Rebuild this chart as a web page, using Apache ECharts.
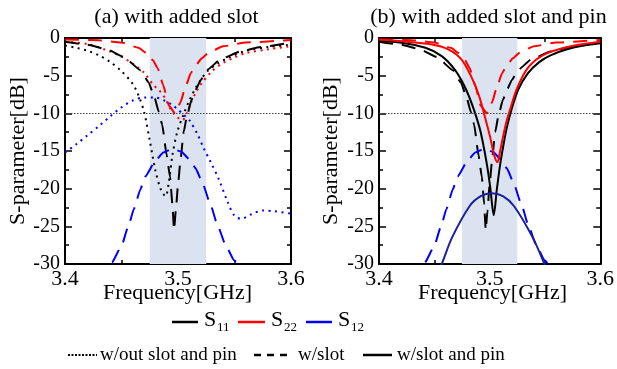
<!DOCTYPE html>
<html>
<head>
<meta charset="utf-8">
<script src="https://cdn.jsdelivr.net/npm/echarts@6/dist/echarts.min.js"></script>
<style>html,body{margin:0;padding:0;background:#fff}#c{width:617px;height:369px}</style>
</head>
<body>
<div id="c"></div>
<script>
// ---------- data ----------
const xTicks = [3.4, 3.5, 3.6];
const yTicks = [0, -5, -10, -15, -20, -25, -30];
const band = [3.475, 3.525];
const refLevel = -10;

// w/out slot and pin (dotted), panel (a)
const fS11none = [3.40,3.41,3.42,3.43,3.44,3.45,3.46,3.465,3.47,3.475,3.48,3.485,3.489,3.492,3.495,3.4993,3.505,3.51,3.515,3.52,3.526,3.535,3.545,3.56,3.58,3.60];
const S11none  = [-1.0,-1.3,-1.7,-2.3,-3.2,-4.4,-6.1,-7.6,-9.8,-13.6,-17.6,-20.2,-21.0,-19.0,-15.6,-12.5,-10.1,-8.3,-6.8,-5.6,-4.4,-3.4,-2.6,-1.7,-1.2,-0.9];
const fS22none = [3.40,3.42,3.44,3.45,3.46,3.47,3.478,3.483,3.487,3.49,3.494,3.50,3.504,3.508,3.512,3.516,3.52,3.53,3.54,3.55,3.56,3.58,3.60];
const S22none  = [-0.5,-0.8,-1.8,-2.5,-3.4,-4.6,-6.2,-6.9,-7.6,-8.4,-9.6,-10.6,-10.9,-9.9,-8.4,-7.2,-6.2,-4.4,-3.3,-2.6,-2.0,-1.5,-1.1];
const fS12none = [3.40,3.41,3.42,3.43,3.44,3.45,3.46,3.47,3.48,3.488,3.495,3.50,3.505,3.51,3.517,3.523,3.529,3.536,3.544,3.55,3.556,3.565,3.575,3.585,3.60];
const S12none  = [-15.2,-14.1,-12.9,-11.7,-10.4,-9.2,-8.3,-7.9,-7.9,-8.3,-8.9,-9.5,-10.2,-10.9,-12.7,-14.7,-16.5,-18.7,-21.8,-23.6,-24.0,-23.4,-22.9,-23.0,-23.3];

// w/slot (dashed), both panels
const fS11slot = [3.40,3.42,3.437,3.452,3.467,3.474,3.479,3.483,3.486,3.49,3.493,3.495,3.4965,3.498,3.50,3.502,3.505,3.508,3.512,3.516,3.52,3.526,3.538,3.555,3.573,3.60];
const S11slot  = [-0.5,-0.9,-1.5,-2.5,-4.3,-5.9,-7.8,-9.8,-11.5,-15.6,-18.5,-22.0,-25.5,-23.0,-19.5,-16.5,-12.5,-10.3,-8.2,-6.8,-5.6,-4.2,-2.8,-1.8,-1.2,-0.6];
const fS22slot = [3.40,3.43,3.45,3.465,3.472,3.478,3.482,3.487,3.492,3.4975,3.502,3.507,3.5115,3.5154,3.521,3.527,3.54,3.56,3.60];
const S22slot  = [-0.2,-0.3,-0.6,-1.3,-2.0,-3.0,-4.0,-6.3,-9.0,-10.0,-8.6,-6.3,-4.6,-3.7,-2.7,-1.95,-1.1,-0.6,-0.25];
const fS12slot = [3.425,3.435,3.4415,3.45,3.456,3.461,3.4667,3.471,3.48,3.487,3.495,3.503,3.51,3.5156,3.5215,3.529,3.5348,3.5422,3.5496,3.556,3.565];
const S12slot  = [-31.5,-30.6,-29.8,-27.6,-25.0,-22.7,-20.1,-18.4,-16.3,-15.2,-14.7,-15.1,-16.1,-17.3,-19.2,-22.2,-24.8,-27.5,-29.5,-30.5,-31.5];

// w/slot and pin (solid), panel (b)
const fS11pin = [3.40,3.4185,3.442,3.4567,3.4685,3.4773,3.4846,3.4905,3.4934,3.4978,3.5007,3.5037,3.5066,3.5095,3.5125,3.5154,3.5198,3.5257,3.5345,3.5448,3.555,3.57,3.585,3.60];
const S11pin  = [-0.4,-0.6,-1.3,-2.4,-4.2,-6.4,-9.0,-11.7,-13.5,-17.0,-20.0,-23.5,-20.0,-16.8,-14.2,-12.0,-9.5,-6.9,-4.7,-3.2,-2.3,-1.5,-1.0,-0.7];
const fS22pin = [3.40,3.4185,3.4478,3.4626,3.4743,3.483,3.4905,3.4963,3.5007,3.504,3.507,3.5095,3.512,3.5154,3.5183,3.5242,3.533,3.5419,3.5507,3.565,3.58,3.60];
const S22pin  = [-0.2,-0.4,-0.85,-1.5,-2.8,-5.0,-7.7,-10.8,-13.3,-15.5,-16.5,-15.0,-13.2,-11.0,-9.6,-6.9,-4.3,-2.9,-2.1,-1.4,-0.9,-0.5];
const fS12pin = [3.445,3.4567,3.466,3.482,3.492,3.502,3.512,3.522,3.539,3.5495,3.56];
const S12pin  = [-34.0,-30.0,-26.5,-22.3,-21.0,-20.6,-21.0,-22.3,-26.5,-30.0,-34.0];

// ---------- build ----------
const F = 'Liberation Serif';
const zip = (f, v) => f.map((x, i) => [x, v[i]]);
const BLACK = '#000000', RED = '#ff0000', BLUE = '#0000ff', NAVY = '#1a1f9c';
const DOT = [2, 4.5], DASH = [14, 9];

function ser(name, f, v, color, dash, panel, extra) {
  const dashed = Array.isArray(dash) && dash === DASH;
  const o = {
    name, type: 'line', data: zip(f, v),
    xAxisIndex: panel * 2, yAxisIndex: panel * 2,
    showSymbol: false, symbol: 'none', smooth: dashed ? 0.15 : 0.3,
    clip: true, silent: true, animation: false,
    lineStyle: { color, width: 2, type: dash, cap: 'butt' }
  };
  if (dashed) o.smoothMonotone = 'x';
  return Object.assign(o, extra || {});
}
function bandAndRef() {
  return {
    markArea: { silent: true, itemStyle: { color: '#dae3ef' }, data: [[{ xAxis: band[0] }, { xAxis: band[1] }]] },
    markLine: { silent: true, symbol: 'none', label: { show: false },
      lineStyle: { color: '#444', width: 1, type: [1.5, 1.5] }, data: [{ yAxis: refLevel }] }
  };
}

function xAx(grid, pos, show) {
  return {
    type: 'value', gridIndex: grid, position: pos, min: xTicks[0], max: xTicks[xTicks.length - 1],
    interval: xTicks[1] - xTicks[0],
    axisLine: { show: true, onZero: false, lineStyle: { color: '#000', width: 2 } },
    axisTick: { show: true, inside: true, length: 7, lineStyle: { color: '#000', width: 1.5 } },
    minorTick: { show: true, splitNumber: 2, length: 4, lineStyle: { color: '#000', width: 1.5 } },
    splitLine: { show: false },
    axisLabel: { show: show, color: '#000', fontFamily: F, fontSize: 22, margin: 4,
      formatter: v => v.toFixed(1) }
  };
}
function yAx(grid, pos, show) {
  return {
    type: 'value', gridIndex: grid, position: pos, min: yTicks[yTicks.length - 1], max: yTicks[0],
    interval: yTicks[0] - yTicks[1],
    axisLine: { show: true, onZero: false, lineStyle: { color: '#000', width: 2 } },
    axisTick: { show: true, inside: true, length: 7, lineStyle: { color: '#000', width: 1.5 } },
    minorTick: { show: true, splitNumber: 2, length: 4, lineStyle: { color: '#000', width: 1.5 } },
    splitLine: { show: false },
    axisLabel: { show: show, color: '#000', fontFamily: F, fontSize: 20, margin: 5 }
  };
}

const series = [
  ser('S11 w/out', fS11none, S11none, BLACK, DOT, 0, bandAndRef()),
  ser('S22 w/out', fS22none, S22none, RED, DOT, 0),
  ser('S12 w/out', fS12none, S12none, BLUE, DOT, 0),
  ser('S11 slot a', fS11slot, S11slot, BLACK, DASH, 0),
  ser('S22 slot a', fS22slot, S22slot, RED, DASH, 0),
  ser('S12 slot a', fS12slot, S12slot, BLUE, DASH, 0),
  ser('S11 slot b', fS11slot, S11slot, BLACK, DASH, 1, bandAndRef()),
  ser('S22 slot b', fS22slot, S22slot, RED, DASH, 1),
  ser('S12 slot b', fS12slot, S12slot, BLUE, DASH, 1),
  ser('S11 pin', fS11pin, S11pin, BLACK, 'solid', 1),
  ser('S22 pin', fS22pin, S22pin, RED, 'solid', 1),
  ser('S12 pin', fS12pin, S12pin, NAVY, 'solid', 1)
];

function txt(x, y, s, size, align, rot) {
  return { type: 'text', x, y, silent: true, rotation: rot || 0,
    style: { text: s, fill: '#000', font: size + 'px "' + F + '"',
      align: align || 'left', verticalAlign: 'middle', textAlign: align || 'left', textVerticalAlign: 'middle' } };
}
function ln(x1, x2, y, color, dash, w) {
  return { type: 'line', silent: true, shape: { x1, y1: y, x2, y2: y },
    style: { stroke: color, lineWidth: w || 2.5, lineDash: dash || null } };
}

const graphic = [
  txt(176.5, 17, '(a) with added slot', 22, 'center'),
  txt(488.5, 17, '(b) with added slot and pin', 22, 'center'),
  txt(177.5, 293, 'Frequency[GHz]', 22, 'center'),
  txt(492.5, 293, 'Frequency[GHz]', 22, 'center'),
  txt(18, 151, 'S-parameter[dB]', 22, 'center', Math.PI / 2),
  txt(331, 151, 'S-parameter[dB]', 22, 'center', Math.PI / 2),
  // legend row 1
  ln(172, 198, 322, BLACK), txt(204, 320, 'S', 22), txt(217, 328, '11', 13),
  ln(238, 265, 322, RED),   txt(271, 320, 'S', 22), txt(284, 328, '22', 13),
  ln(306, 332, 322, BLUE),  txt(338, 320, 'S', 22), txt(351, 328, '12', 13),
  // legend row 2
  ln(68, 97, 355, BLACK, [2, 1.5], 2), txt(100, 355, 'w/out slot and pin', 19),
  ln(254, 288, 355, BLACK, [7, 6], 2.5), txt(298, 355, 'w/slot', 19),
  ln(363, 392, 355, BLACK, null, 2.5), txt(397, 355, 'w/slot and pin', 19)
];

const chart = echarts.init(document.getElementById('c'), null, { renderer: 'canvas' });
chart.setOption({
  animation: false,
  backgroundColor: '#fff',
  grid: [
    { left: 65, top: 38, width: 226, height: 226 },
    { left: 379, top: 38, width: 227, height: 226 }
  ],
  xAxis: [xAx(0, 'bottom', true), xAx(0, 'top', false), xAx(1, 'bottom', true), xAx(1, 'top', false)],
  yAxis: [yAx(0, 'left', true), yAx(0, 'right', false), yAx(1, 'left', true), yAx(1, 'right', false)],
  series,
  graphic
});
</script>
</body>
</html>
